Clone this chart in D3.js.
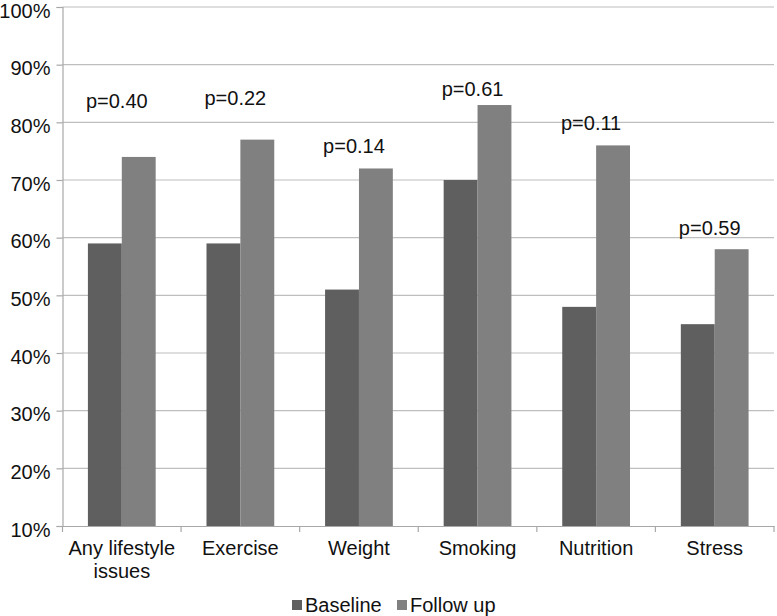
<!DOCTYPE html>
<html>
<head>
<meta charset="utf-8">
<script src="https://cdn.jsdelivr.net/npm/d3@7"></script>
<style>
  html, body { margin: 0; padding: 0; background: #fff; }
  svg { display: block; }
  text { font-family: "Liberation Sans", Arial, Helvetica, sans-serif; fill: #111; }
</style>
</head>
<body>
<svg id="chart" width="777" height="616"></svg>
<script>
// ---- data ----
const categories = ["Any lifestyle issues", "Exercise", "Weight", "Smoking", "Nutrition", "Stress"];
const seriesNames = ["Baseline", "Follow up"];
const baseline = [59, 59, 51, 70, 48, 45];
const followUp = [74, 77, 72, 83, 76, 58];
const pLabels = ["p=0.40", "p=0.22", "p=0.14", "p=0.61", "p=0.11", "p=0.59"];
const pLabelLevel = [82.5, 83.0, 74.7, 84.6, 78.7, 60.5]; // value level of label baseline
const yTicks = [10, 20, 30, 40, 50, 60, 70, 80, 90, 100];

const colors = ["#5f5f5f", "#808080"];
const fontSize = 20;

const svg = d3.select("#chart");
const mLeft = 62.5, mRight = 774, mTop = 7, mBottom = 526;

const y = d3.scaleLinear().domain([10, 100]).range([mBottom, mTop]);
const x = d3.scaleBand().domain(categories).range([mLeft, mRight]).paddingInner(0).paddingOuter(0);
const xs = d3.scaleBand().domain(seriesNames).range([0, x.bandwidth()]).paddingInner(0).paddingOuter(0.75);

// gridlines
svg.append("g").selectAll("line").data(yTicks.filter(t => t > 10)).join("line")
  .attr("x1", mLeft).attr("x2", mRight)
  .attr("y1", d => y(d)).attr("y2", d => y(d))
  .attr("stroke", "#bebebe").attr("stroke-width", 1.2);

// bars
const series = [baseline, followUp];
series.forEach((vals, si) => {
  svg.append("g").selectAll("rect").data(categories).join("rect")
    .attr("x", (c) => x(c) + xs(seriesNames[si]))
    .attr("width", xs.bandwidth())
    .attr("y", (c, i) => y(vals[i]))
    .attr("height", (c, i) => y(10) - y(vals[i]))
    .attr("fill", colors[si]);
});

// y axis
const yAxis = d3.axisLeft(y).tickValues(yTicks).tickFormat(d => d + "%").tickSize(6).tickPadding(6);
const gy = svg.append("g").attr("transform", `translate(${mLeft},0)`).call(yAxis);
gy.select(".domain").attr("stroke", "#a8a8a8").attr("stroke-width", 1.2);
gy.selectAll(".tick line").attr("stroke", "#a8a8a8").attr("stroke-width", 1.2);
gy.selectAll(".tick text").attr("font-size", fontSize).attr("fill", "#111")
  .attr("font-family", "Liberation Sans, Arial, sans-serif").attr("dy", "0.5em");

// x axis
const xAxis = d3.axisBottom(x).tickSize(0).tickPadding(10);
const gx = svg.append("g").attr("transform", `translate(0,${mBottom})`).call(xAxis);
gx.select(".domain").attr("stroke", "#a8a8a8").attr("stroke-width", 1.2);
gx.selectAll(".tick text").attr("font-size", fontSize).attr("fill", "#111")
  .attr("font-family", "Liberation Sans, Arial, sans-serif");
// boundary ticks
svg.append("g").selectAll("line").data(d3.range(categories.length + 1)).join("line")
  .attr("x1", i => mLeft + i * x.step()).attr("x2", i => mLeft + i * x.step())
  .attr("y1", mBottom).attr("y2", mBottom + 6)
  .attr("stroke", "#a8a8a8").attr("stroke-width", 1.2);

// wrap category labels
gx.selectAll(".tick text").each(function(d) {
  const t = d3.select(this);
  const words = d.split(" ");
  t.text(null);
  const maxW = x.bandwidth() - 4;
  let line = [];
  let tspan = t.append("tspan").attr("x", 0).attr("y", 29);
  let lineNo = 0;
  words.forEach(w => {
    line.push(w);
    tspan.text(line.join(" "));
    if (tspan.node().getComputedTextLength() > maxW && line.length > 1) {
      line.pop();
      tspan.text(line.join(" "));
      line = [w];
      lineNo++;
      tspan = t.append("tspan").attr("x", 0).attr("y", 29 + lineNo * 23).text(w);
    }
  });
  t.attr("dy", null);
});

// p-value labels
svg.append("g").selectAll("text").data(categories).join("text")
  .attr("x", c => x(c) + x.bandwidth() / 2 - 5)
  .attr("y", (c, i) => y(pLabelLevel[i]))
  .attr("text-anchor", "middle")
  .attr("font-size", fontSize)
  .text((c, i) => pLabels[i]);

// legend
const legend = svg.append("g").attr("transform", "translate(292,600)");
const legendX = [0, 105];
seriesNames.forEach((n, i) => {
  const g = legend.append("g").attr("transform", `translate(${legendX[i]},0)`);
  g.append("rect").attr("width", 10).attr("height", 10).attr("y", 0).attr("fill", colors[i]);
  g.append("text").attr("x", 13).attr("y", 11.5).attr("font-size", fontSize).text(n);
});
</script>
</body>
</html>
